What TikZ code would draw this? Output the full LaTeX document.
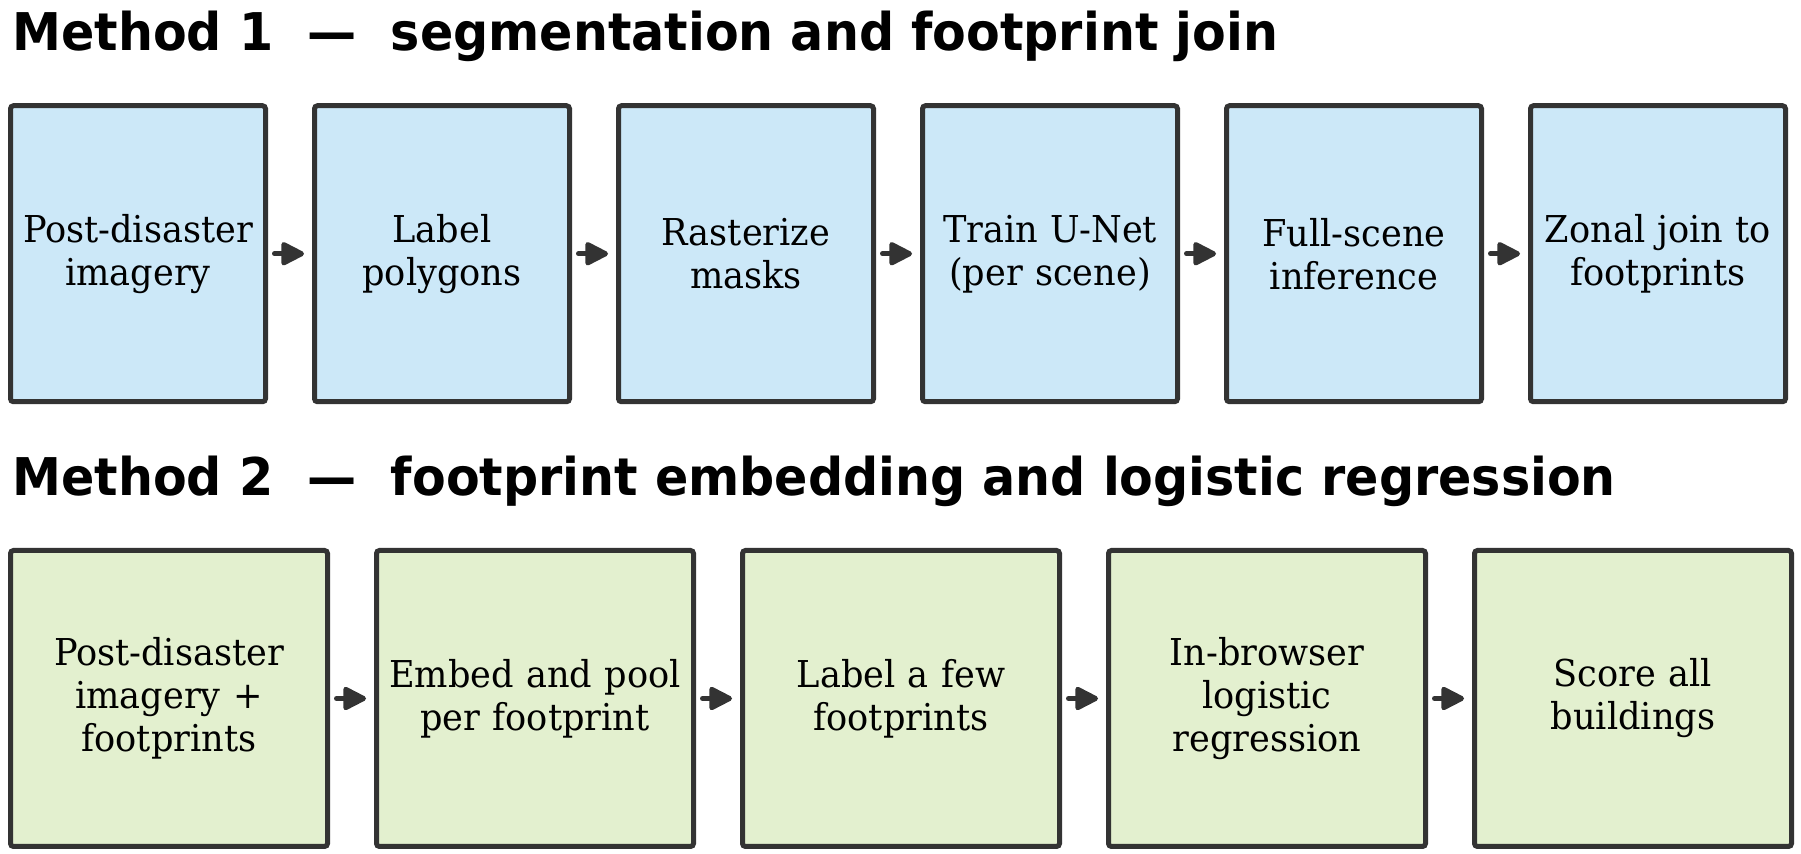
\documentclass[tikz,border=0pt]{standalone}
\usepackage{fontspec}
\setmainfont{DejaVu Serif}[FakeStretch=0.95]
\newfontfamily\headfont{DejaVu Sans}[FakeStretch=0.945]
\usepackage{tikz}
\usetikzlibrary{positioning,arrows.meta}
\usepackage{xcolor}
\definecolor{edgegray}{HTML}{333333}
\definecolor{segblue}{HTML}{CCE8F8}
\definecolor{embgreen}{HTML}{E3F0CF}

\tikzset{
  stepbox/.style={draw=edgegray,line width=2.5pt,rounded corners=1.5pt,outer sep=0pt,
    align=center,inner sep=1pt,minimum height=148pt,font=\fontsize{18.5}{21.5}\selectfont},
  segbox/.style={stepbox,fill=segblue,minimum width=127.5pt,text width=125pt},
  embbox/.style={stepbox,fill=embgreen,minimum width=158.5pt,text width=156pt},
  flow/.style={draw=edgegray,line width=2.5pt,line cap=round,
    -{Triangle[length=13pt,width=12.5pt,round]},shorten <=4.5pt,shorten >=5.25pt},
  heading/.style={anchor=base west,inner sep=0pt,font=\headfont\bfseries\fontsize{26}{30}\selectfont}
}

\begin{document}
\begin{tikzpicture}[x=0.5pt,y=-0.5pt,node distance=24.5pt]
\useasboundingbox (0,0) rectangle (1801,854);

% method 1
\node[heading] (head1) at (12,51) {Method 1 \ — \ segmentation and footprint join};
\node[segbox] (s1) at (138,253.75) {Post-disaster\\imagery};
\node[segbox,right=of s1] (s2) {Label\\polygons};
\node[segbox,right=of s2] (s3) {Rasterize\\masks};
\node[segbox,right=of s3] (s4) {Train U-Net\\(per scene)};
\node[segbox,right=of s4] (s5) {Full-scene\\inference};
\node[segbox,right=of s5] (s6) {Zonal join to\\footprints};

\draw[flow] (s1) -- (s2);
\draw[flow] (s2) -- (s3);
\draw[flow] (s3) -- (s4);
\draw[flow] (s4) -- (s5);
\draw[flow] (s5) -- (s6);

% method 2
\node[heading] (head2) at (12,496) {Method 2 \ — \ footprint embedding and logistic regression};
\node[embbox] (e1) at (169,698.5) {Post-disaster\\imagery +\\footprints};
\node[embbox,right=of e1] (e2) {Embed and pool\\per footprint};
\node[embbox,right=of e2] (e3) {Label a few\\footprints};
\node[embbox,right=of e3] (e4) {In-browser\\logistic\\regression};
\node[embbox,right=of e4] (e5) {Score all\\buildings};

\draw[flow] (e1) -- (e2);
\draw[flow] (e2) -- (e3);
\draw[flow] (e3) -- (e4);
\draw[flow] (e4) -- (e5);
\end{tikzpicture}
\end{document}
